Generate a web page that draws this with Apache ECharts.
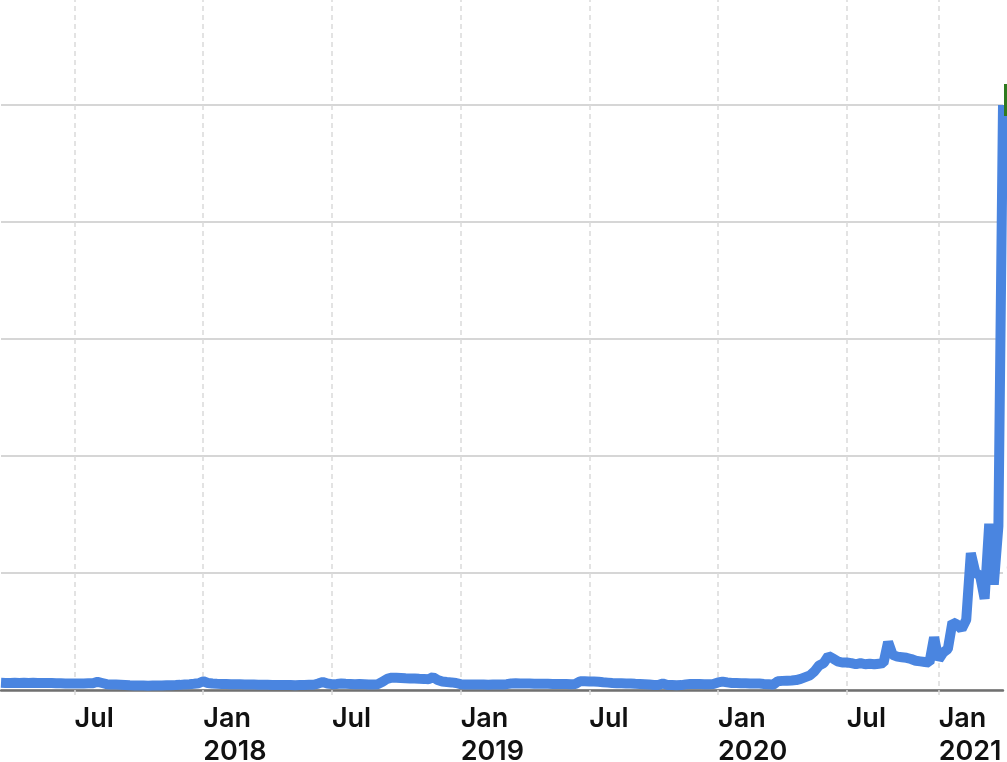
<!DOCTYPE html>
<html>
<head>
<meta charset="utf-8">
<style>
  html, body { margin: 0; padding: 0; background: #ffffff; }
  #chart { width: 1007px; height: 762px; }
</style>
<script src="https://cdn.jsdelivr.net/npm/echarts@6/dist/echarts.min.js"></script>
</head>
<body>
<div id="chart"></div>
<script>
// Axis anchors (half-year ticks) and number of weekly steps between them
const anchorDates = ['2017-03-21','2017-07-01','2018-01-01','2018-07-01','2019-01-01','2019-07-01','2020-01-01','2020-07-01','2021-01-01','2021-03-15'];
const stepsBetween = [16, 28, 28, 28, 28, 28, 28, 20, 14];
const tickLabels = ['', 'Jul', 'Jan\n2018', 'Jul', 'Jan\n2019', 'Jul', 'Jan\n2020', 'Jul', 'Jan\n2021', ''];

// Price values (one per category)
const prices = [
  0.62,0.6,0.6,0.61,0.6,0.62,0.6,0.61,0.6,0.59,0.6,0.6,0.58,
  0.57,0.56,0.55,0.56,0.55,0.56,0.57,0.58,
  0.7,0.6,
  0.5,0.48,0.47,0.45,0.43,
  0.4,0.39,0.38,0.38,0.37,0.38,0.38,0.39,0.4,0.41,0.42,0.44,
  0.48,0.5,0.53,0.58,
  0.75,0.6,
  0.55,0.53,0.52,0.52,0.5,0.5,0.49,0.48,0.47,
  0.46,0.45,0.44,0.44,0.43,0.42,0.42,0.43,0.42,0.41,0.42,0.43,0.44,0.45,
  0.55,0.68,0.55,
  0.5,0.52,0.55,0.53,0.52,0.5,0.52,
  0.5,0.48,0.47,0.5,
  0.7,0.95,1.05,1.05,1.03,1.0,0.98,0.98,0.96,0.95,0.92,1.1,0.85,0.72,0.68,0.65,0.6,
  0.5,0.48,0.47,0.47,0.46,0.46,0.45,0.46,0.47,0.47,0.5,
  0.56,0.57,0.56,0.55,0.55,0.54,0.54,0.53,0.53,
  0.52,0.52,0.51,0.51,0.5,
  0.52,0.75,0.74,0.73,0.72,0.7,
  0.66,0.63,0.6,0.58,0.57,0.56,0.55,0.53,0.52,0.5,0.48,
  0.43,0.42,0.55,0.43,0.42,0.4,0.42,
  0.48,0.52,0.52,0.51,0.5,0.5,0.52,
  0.65,0.72,0.65,0.6,0.6,0.58,0.58,0.56,
  0.55,0.55,0.52,0.5,0.45,0.75,0.78,0.8,0.82,0.85,0.95,1.1,1.25,1.6,2.1,2.3,2.9,2.7,2.45,2.35,2.35,2.3,2.2,2.3,2.2,2.25,2.2,2.25,2.3,
  4.1,3.0,2.85,2.8,2.75,2.65,2.5,2.45,2.4,2.35,4.5,
  2.6,3.2,3.5,5.8,5.6,5.2,6.0,11.7,10.0,9.8,7.8,14.2,9.0,14.0,50.0
];

// y-axis ticks
const yMin = 0, yMax = 60, yStep = 10;

// Build category dates (spaced evenly between anchors) and tick label lookup
const categories = [];
const labelAt = {};
for (let s = 0; s < stepsBetween.length; s++) {
  const a = new Date(anchorDates[s] + 'T00:00:00Z').getTime();
  const b = new Date(anchorDates[s + 1] + 'T00:00:00Z').getTime();
  const n = stepsBetween[s];
  for (let k = 0; k < n; k++) {
    if (k === 0) labelAt[categories.length] = tickLabels[s];
    categories.push(new Date(a + (b - a) * k / n).toISOString().slice(0, 10));
  }
}
labelAt[categories.length] = tickLabels[tickLabels.length - 1];
categories.push(anchorDates[anchorDates.length - 1]);

const isTick = (idx) => !!labelAt[idx];

const chart = echarts.init(document.getElementById('chart'), null, { renderer: 'canvas' });
chart.setOption({
  animation: false,
  backgroundColor: '#ffffff',
  grid: { left: 1, right: 4, top: -12, bottom: 72, containLabel: false, outerBoundsMode: 'none' },
  xAxis: {
    type: 'category',
    data: categories,
    boundaryGap: false,
    axisLine: { show: true, lineStyle: { color: '#707070', width: 2.5 } },
    axisTick: { show: true, length: 7, interval: isTick, lineStyle: { color: '#d8d8d8', width: 1.5, type: [5, 4] } },
    axisLabel: {
      interval: isTick,
      formatter: (v, idx) => labelAt[idx] || '',
      align: 'left',
      margin: 12,
      fontFamily: 'Inter, "Noto Sans", sans-serif',
      fontSize: 27,
      fontWeight: 600,
      lineHeight: 33,
      color: '#111111'
    },
    splitLine: { show: true, interval: isTick, lineStyle: { color: '#dadada', width: 1.5, type: [5, 4] } }
  },
  yAxis: {
    type: 'value',
    position: 'right',
    min: yMin,
    max: yMax,
    interval: yStep,
    axisLine: { show: false },
    axisTick: { show: false },
    axisLabel: { margin: 3, fontSize: 20, color: '#222', fontFamily: 'Inter, sans-serif' },
    splitLine: { show: true, lineStyle: { color: '#d6d6d6', width: 2 } }
  },
  series: [{
    type: 'line',
    data: prices,
    showSymbol: false,
    lineStyle: { color: '#4a85e0', width: 10, join: 'bevel' },
    itemStyle: { color: '#4a85e0' },
    endLabel: {
      show: true,
      formatter: (p) => p.value.toFixed(1),
      backgroundColor: '#2f7a1f',
      color: '#ffffff',
      fontSize: 16,
      padding: [8, 6],
      distance: 1,
      offset: [0, -5]
    }
  }]
});
</script>
</body>
</html>
